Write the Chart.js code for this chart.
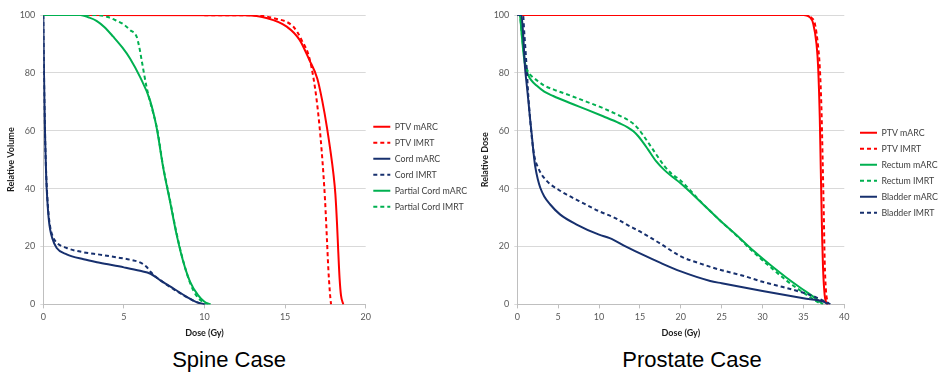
<!DOCTYPE html>
<html>
<head>
<meta charset="utf-8">
<script src="https://cdn.jsdelivr.net/npm/chart.js@4.4.1/dist/chart.umd.min.js"></script>
<style>
    body { margin: 0; background: #fff; width: 939px; height: 374px; position: relative; overflow: hidden; }
    canvas { position: absolute; top: 0; }
    #spine { left: 0; }
    #prostate { left: 470px; }
    .caption { position: absolute; top: 349px; font-family: "Liberation Sans", Arial, sans-serif; font-size: 22px; line-height: 22px; color: #000; transform: translateX(-50%); white-space: nowrap; }
</style>
</head>
<body>
<canvas id="spine" width="470" height="342"></canvas>
<canvas id="prostate" width="469" height="342"></canvas>
<div class="caption" style="left:229px">Spine Case</div>
<div class="caption" style="left:692px">Prostate Case</div>
<script>
// ticks
const volumeTicks = [0, 20, 40, 60, 80, 100];
const spineDoseTicks = [0, 5, 10, 15, 20];
const prostateDoseTicks = [0, 5, 10, 15, 20, 25, 30, 35, 40];

// spine case: [dose Gy, relative volume %]
const spineLabels = ['PTV mARC', 'PTV IMRT', 'Cord mARC', 'Cord IMRT', 'Partial Cord mARC', 'Partial Cord IMRT'];
const spinePtvMarc = [[0, 100], [12.5, 99.9], [13.9, 98.9], [15.1, 96], [15.9, 91.4], [16.5, 84.5], [17, 78], [17.3, 70.5], [17.6, 61], [18, 45], [18.12, 38], [18.22, 28], [18.3, 18], [18.38, 9], [18.47, 3], [18.61, 0]];
const spinePtvImrt = [[0, 100], [13, 99.9], [14.3, 98.9], [15.5, 96], [16.02, 91.4], [16.54, 84.4], [16.96, 70.5], [17.27, 53], [17.48, 35.8], [17.6, 22], [17.68, 12.5], [17.78, 4], [17.85, 0]];
const spineCordMarc = [[0, 100], [0.03, 85], [0.07, 70], [0.12, 56], [0.18, 44], [0.25, 36], [0.33, 30], [0.42, 26], [0.55, 23], [0.83, 19.5], [1.45, 17.3], [2.5, 15.6], [3.5, 14.4], [5, 12.8], [6, 11.6], [6.65, 10.6], [7.26, 8.3], [8.1, 5.4], [8.9, 2.6], [9.5, 0.8], [10.05, 0]];
const spineCordImrt = [[0, 100], [0.03, 85], [0.07, 70], [0.12, 56], [0.18, 45], [0.25, 37], [0.33, 31], [0.42, 27], [0.55, 24], [0.8, 21.5], [1.45, 19.5], [2.5, 18], [3.5, 17.2], [4.5, 16.3], [5.5, 15.3], [6, 14.5], [6.4, 13], [6.7, 11], [7.3, 8.2], [8.1, 5.2], [8.9, 2.5], [9.5, 0.8], [10, 0]];
const spinePartialMarc = [[0, 100], [2.3, 100], [2.8, 99.2], [3.3, 98], [3.8, 95.8], [4.34, 92.5], [4.9, 88.8], [5.38, 85], [6, 78.6], [6.62, 70.5], [7.03, 61.1], [7.44, 47.2], [7.86, 35.6], [8.27, 24.1], [8.68, 14.8], [9.1, 7.9], [9.6, 3.2], [10, 0.9], [10.38, 0]];
const spinePartialImrt = [[0, 100], [3.3, 100], [4, 99.3], [4.55, 98], [5, 96.7], [5.38, 94.8], [5.79, 92.5], [5.95, 89], [6.1, 84.4], [6.41, 75], [6.83, 65.8], [7.05, 61], [7.44, 47.5], [7.86, 36], [8.27, 24.5], [8.68, 15], [9.1, 7.5], [9.5, 3], [9.9, 0.8], [10.25, 0]];

// prostate case: [dose Gy, relative dose %]
const prostateLabels = ['PTV mARC', 'PTV IMRT', 'Rectum mARC', 'Rectum IMRT', 'Bladder mARC', 'Bladder IMRT'];
const prostatePtvMarc = [[0, 100], [35, 100], [35.8, 99.2], [36.2, 97], [36.6, 90], [36.8, 82], [37, 64.6], [37.1, 50], [37.2, 35.6], [37.3, 22], [37.4, 12.5], [37.6, 3.2], [37.9, 0]];
const prostatePtvImrt = [[0, 100], [35.2, 100], [36, 99], [36.4, 97], [36.8, 89], [37, 82], [37.2, 68], [37.35, 50], [37.5, 30], [37.6, 15], [37.75, 5], [38.05, 0]];
const prostateRectumMarc = [[0, 100], [0.3, 100], [0.53, 93.5], [0.75, 87], [0.94, 83], [1.3, 79.5], [1.7, 77.5], [2.36, 75.6], [3.3, 73.5], [4.4, 72], [6.44, 69.6], [8.5, 67.3], [10.5, 65], [12.5, 62.6], [13.5, 61.2], [14.2, 59.8], [14.8, 58.1], [15.4, 55.9], [16, 53.5], [17, 49.4], [18, 46.4], [19, 44], [19.9, 42], [22.5, 35.2], [24.8, 29], [27, 23.5], [28.9, 18.5], [31, 13.5], [32.9, 9.3], [34.5, 6], [36.2, 2.7], [37.4, 0]];
const prostateRectumImrt = [[0, 100], [0.3, 100], [0.53, 94], [0.75, 88], [0.94, 83.5], [1.3, 80.5], [1.7, 79], [2.36, 77.5], [3.3, 75.6], [4.4, 74.3], [6.44, 72.2], [8.5, 70], [10.5, 67.8], [12.5, 65.2], [13.5, 63.8], [14.2, 62.4], [14.8, 60.7], [15.4, 58.4], [16, 56], [17, 51.8], [18, 47.8], [19, 44.8], [19.9, 43], [22.5, 35.3], [24.8, 29], [27, 23.3], [28.9, 18], [31, 12.8], [32.9, 8.3], [34.5, 5], [36.2, 1.8], [37.2, 0]];
const prostateBladderMarc = [[0, 100], [0.5, 100], [0.7, 94], [0.94, 82], [1.15, 76], [1.35, 70.5], [1.55, 64.5], [1.76, 58.9], [2, 52], [2.2, 47.5], [2.5, 43.3], [2.8, 40.4], [3.3, 37.3], [4, 34.6], [5.22, 31.1], [7.26, 27.6], [10, 24.1], [11.3, 22.9], [13.3, 20], [15.4, 17.1], [17.4, 14.5], [20, 11.4], [23.6, 8.1], [25, 7.3], [30, 4.6], [35, 2.1], [37.5, 0.9], [38, 0]];
const prostateBladderImrt = [[0, 100], [0.7, 100], [0.85, 94], [1, 88], [1.14, 82], [1.35, 72], [1.55, 64.6], [1.8, 57], [2.1, 51], [2.5, 47.5], [3, 44.8], [3.5, 43], [4, 41.6], [5, 39.7], [6, 38], [7.5, 35.8], [10, 32.2], [12, 29.8], [13.5, 27.4], [15, 25.2], [17.5, 21], [20, 16.6], [22.5, 14], [25, 11.8], [27.5, 10], [30, 7.8], [32.5, 6], [35, 4], [36.5, 2.5], [37.5, 1.2], [38.3, 0]];

const RED = '#ff0000';
const NAVY = '#17306e';
const GREEN = '#00b050';
const DASH = [4, 3];

Chart.defaults.font.family = 'Lato, "Liberation Sans", sans-serif';
Chart.defaults.animation = false;

const makeChart = (id, cfg) => {
    const datasets = cfg.series.map((s, i) => ({
        label: cfg.labels[i],
        data: s.map(p => ({ x: p[0], y: p[1] })),
        borderColor: cfg.colors[i],
        backgroundColor: cfg.colors[i],
        borderWidth: 2,
        borderDash: i % 2 ? DASH : [],
        pointRadius: 0,
        fill: false,
        cubicInterpolationMode: 'monotone',
        order: cfg.series.length - i
    }));

    return new Chart(document.getElementById(id), {
        type: 'line',
        data: { datasets },
        options: {
            responsive: false,
            layout: { padding: { top: 15, bottom: 0, left: cfg.padLeft, right: 0 } },
            plugins: {
                tooltip: { enabled: false },
                legend: {
                    position: 'right',
                    fullSize: false,
                    maxWidth: cfg.legendWidth,
                    title: { display: true, text: '', padding: 0, font: { size: 10, lineHeight: cfg.legendShift + 'px' } },
                    labels: {
                        usePointStyle: true,
                        pointStyleWidth: 17,
                        padding: 7.2,
                        color: '#404040',
                        font: { size: 8.8 },
                        sort: (a, b) => a.datasetIndex - b.datasetIndex,
                        generateLabels: chart => Chart.defaults.plugins.legend.labels.generateLabels(chart).map(item => {
                            const ds = chart.data.datasets[item.datasetIndex];
                            item.lineDash = ds.borderDash;
                            item.lineWidth = 2;
                            item.pointStyle = 'line';
                            return item;
                        })
                    }
                }
            },
            scales: {
                x: {
                    type: 'linear',
                    min: 0,
                    max: cfg.doseTicks[cfg.doseTicks.length - 1],
                    afterBuildTicks: s => { s.ticks = cfg.doseTicks.map(v => ({ value: v })); },
                    ticks: { color: '#595959', font: { size: 9 }, padding: 3, maxRotation: 0 },
                    grid: { drawOnChartArea: false, drawTicks: true, tickLength: 4, color: '#bfbfbf' },
                    border: { color: '#bfbfbf' },
                    title: { display: true, text: 'Dose (Gy)', color: '#1a1a1a', font: { size: 9, weight: 'bold' }, padding: { top: 2, bottom: 4 } }
                },
                y: {
                    min: 0,
                    max: 100,
                    afterBuildTicks: s => { s.ticks = volumeTicks.map(v => ({ value: v })); },
                    afterFit: s => { s.width = cfg.yAxisWidth; },
                    ticks: { color: '#595959', font: { size: 9 }, padding: 5 },
                    grid: { color: '#d9d9d9', drawTicks: true, tickLength: 3 },
                    border: { color: '#bfbfbf' },
                    title: { display: true, text: cfg.yTitle, color: '#1a1a1a', font: { size: 9, weight: 'bold' }, padding: { top: 6, bottom: 2 } }
                },
                gap: {
                    axis: 'y',
                    position: 'right',
                    grid: { display: false },
                    border: { display: false },
                    ticks: { display: false },
                    afterFit: s => { s.width = cfg.gap; }
                }
            }
        }
    });
};

makeChart('spine', {
    labels: spineLabels,
    series: [spinePtvMarc, spinePtvImrt, spineCordMarc, spineCordImrt, spinePartialMarc, spinePartialImrt],
    colors: [RED, RED, NAVY, NAVY, GREEN, GREEN],
    doseTicks: spineDoseTicks,
    yTitle: 'Relative Volume',
    padLeft: 0,
    yAxisWidth: 43.3,
    gap: 0.4,
    legendWidth: 103.9,
    legendShift: 14.3
});

makeChart('prostate', {
    labels: prostateLabels,
    series: [prostatePtvMarc, prostatePtvImrt, prostateRectumMarc, prostateRectumImrt, prostateBladderMarc, prostateBladderImrt],
    colors: [RED, RED, GREEN, GREEN, NAVY, NAVY],
    doseTicks: prostateDoseTicks,
    yTitle: 'Relative Dose',
    padLeft: 4,
    yAxisWidth: 43.3,
    gap: 8.5,
    legendWidth: 86.2,
    legendShift: 26.3
});
</script>
</body>
</html>
